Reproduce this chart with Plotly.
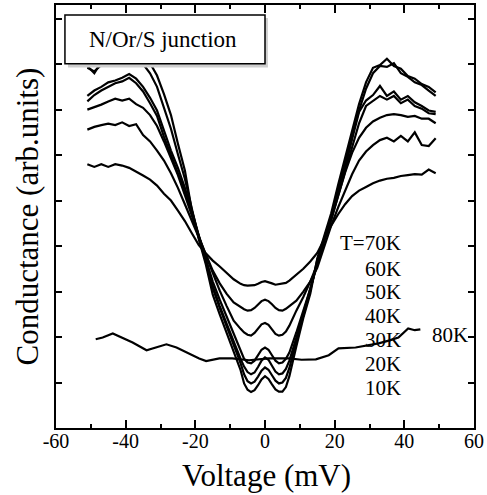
import plotly.graph_objects as go

# ---------------- data ----------------
voltage = [-51, -49, -47, -45, -43, -41, -39, -37, -35, -33,
           -31, -29, -27, -25, -23, -21, -19, -17, -15, -13, -11, -9, -7,
           -6, -5, -4, -3, -2, -1, 0, 1, 2, 3, 4, 5, 6, 7,
           9, 11, 13, 15, 17, 19, 21, 23, 25, 27, 29, 31, 33, 35, 37, 39, 41, 43, 45, 47, 49]

g_10K = [7.96, 7.80, 8.05, 8.20, 8.28, 8.32, 8.35, 8.30, 8.18, 8.02,
         7.75, 7.34, 6.88, 6.25, 5.66, 4.78, 4.15, 3.60, 2.93, 2.50, 2.10, 1.70, 1.27,
         0.98, 0.84, 0.79, 0.83, 0.94, 1.07, 1.14, 1.08, 0.96, 0.85, 0.80, 0.80, 0.90, 1.14,
         1.80, 2.42, 2.95, 3.72, 4.22, 4.72, 5.35, 5.95, 6.55, 7.12, 7.60, 7.92, 7.98, 8.12,
         7.96, 7.90, 7.74, 7.68, 7.56, 7.50, 7.38]

g_20K = [7.92, 7.84, 7.98, 8.10, 8.16, 8.22, 8.20, 8.12, 8.00, 7.80,
         7.50, 7.06, 6.58, 6.02, 5.48, 4.82, 4.18, 3.66, 3.08, 2.64, 2.24, 1.84, 1.42,
         1.18, 1.03, 0.98, 1.02, 1.13, 1.26, 1.33, 1.28, 1.16, 1.04, 0.98, 1.00, 1.10, 1.32,
         1.92, 2.50, 3.02, 3.70, 4.18, 4.65, 5.25, 5.85, 6.42, 6.98, 7.46, 7.80, 7.96, 7.94,
         8.02, 7.80, 7.72, 7.60, 7.54, 7.42, 7.30]

g_30K = [7.30, 7.42, 7.50, 7.60, 7.64, 7.70, 7.78, 7.68, 7.50, 7.26,
         6.98, 6.52, 6.10, 5.72, 5.28, 4.78, 4.22, 3.64, 3.12, 2.68, 2.28, 1.90, 1.52,
         1.35, 1.23, 1.18, 1.22, 1.34, 1.48, 1.55, 1.50, 1.37, 1.24, 1.18, 1.20, 1.30, 1.48,
         1.98, 2.52, 3.02, 3.62, 4.15, 4.62, 5.18, 5.72, 6.35, 6.95, 7.20, 7.32, 7.52, 7.30,
         7.40, 7.22, 7.30, 7.16, 7.08, 6.98, 6.95]

g_40K = [7.18, 7.32, 7.42, 7.50, 7.58, 7.62, 7.70, 7.58, 7.40, 7.14,
         6.86, 6.40, 6.00, 5.62, 5.20, 4.72, 4.22, 3.72, 3.22, 2.82, 2.44, 2.06, 1.68,
         1.52, 1.44, 1.42, 1.48, 1.60, 1.72, 1.77, 1.72, 1.60, 1.48, 1.42, 1.44, 1.52, 1.66,
         2.10, 2.58, 3.06, 3.60, 4.12, 4.58, 5.10, 5.62, 6.18, 6.70, 7.08, 7.20, 7.30, 7.22,
         7.30, 7.14, 7.22, 7.08, 7.02, 6.92, 6.90]

g_50K = [7.00, 7.05, 7.11, 7.18, 7.24, 7.20, 7.24, 7.12, 7.04, 6.88,
         6.64, 6.30, 5.95, 5.56, 5.12, 4.66, 4.22, 3.80, 3.40, 3.02, 2.68, 2.36, 2.18,
         2.10, 2.05, 2.03, 2.09, 2.19, 2.28, 2.31, 2.27, 2.17, 2.07, 2.03, 2.05, 2.12, 2.25,
         2.58, 2.88, 3.22, 3.60, 4.12, 4.58, 5.10, 5.62, 6.05, 6.38, 6.60, 6.74, 6.82, 6.88,
         6.90, 6.88, 6.84, 6.86, 6.80, 6.80, 6.70]

g_60K = [6.56, 6.62, 6.66, 6.69, 6.66, 6.72, 6.64, 6.68, 6.44, 6.30,
         6.10, 5.88, 5.60, 5.28, 4.92, 4.55, 4.18, 3.82, 3.46, 3.18, 2.95, 2.76, 2.65,
         2.61, 2.58, 2.59, 2.64, 2.72, 2.79, 2.82, 2.79, 2.72, 2.64, 2.59, 2.58, 2.62, 2.68,
         2.80, 3.00, 3.22, 3.52, 3.98, 4.45, 4.85, 5.22, 5.58, 5.88, 6.08, 6.22, 6.33, 6.38,
         6.30, 6.42, 6.30, 6.50, 6.22, 6.20, 6.37]

g_70K = [5.80, 5.74, 5.80, 5.74, 5.80, 5.77, 5.72, 5.64, 5.55, 5.46,
         5.33, 5.15, 5.00, 4.78, 4.55, 4.28, 4.02, 3.84, 3.68, 3.55, 3.42, 3.27, 3.17,
         3.14, 3.13, 3.13, 3.14, 3.17, 3.21, 3.23, 3.21, 3.18, 3.15, 3.16, 3.17, 3.19, 3.24,
         3.36, 3.50, 3.66, 3.85, 4.15, 4.45, 4.70, 4.92, 5.10, 5.22, 5.30, 5.38, 5.44, 5.48,
         5.50, 5.54, 5.56, 5.58, 5.57, 5.68, 5.60]

v_80K = [-48.6, -46.6, -43.7, -40.9, -38.0, -34.0, -31.1, -28.3, -25.4, -22.6,
         -18.9, -16.9, -13.1, -9.4, -4.6, 1.1, 6.9, 10.5, 14.6, 18.3,
         21.1, 26.0, 29.5, 32.6, 35.5, 38.3, 41.1, 43.0, 44.6]
g_80K = [1.95, 1.99, 2.08, 1.99, 1.88, 1.71, 1.77, 1.84, 1.77, 1.66,
         1.53, 1.47, 1.53, 1.53, 1.49, 1.53, 1.53, 1.50, 1.51, 1.60,
         1.75, 1.77, 1.82, 1.86, 1.92, 1.99, 2.19, 2.15, 2.17]

x_tick_vals = [-60, -40, -20, 0, 20, 40, 60]
x_tick_text = ["-60", "-40", "-20", "0", "20", "40", "60"]
y_tick_vals = [1, 2, 3, 4, 5, 6, 7, 8, 9]

series = [("10K", g_10K), ("20K", g_20K), ("30K", g_30K), ("40K", g_40K),
          ("50K", g_50K), ("60K", g_60K), ("70K", g_70K)]

# ---------------- figure ----------------
SERIF = "Liberation Serif, Times New Roman, serif"
LW = 2.2
fig = go.Figure()
for name, g in series:
    fig.add_trace(go.Scatter(x=voltage, y=g, mode="lines", name=name,
                             line=dict(color="black", width=LW), showlegend=False))
fig.add_trace(go.Scatter(x=v_80K, y=g_80K, mode="lines", name="80K",
                         line=dict(color="black", width=LW), showlegend=False))

fig.update_layout(
    width=487, height=495,
    margin=dict(l=56, r=11, t=3, b=67),
    paper_bgcolor="white", plot_bgcolor="white",
    font=dict(family=SERIF, color="black"),
    showlegend=False,
)
fig.update_xaxes(
    range=[-60, 60], tickvals=x_tick_vals, ticktext=x_tick_text,
    ticks="inside", ticklen=8, tickwidth=1.5, tickcolor="black",
    showline=True, linewidth=2.2, linecolor="black", mirror="ticks",
    showgrid=False, zeroline=False, tickfont=dict(size=20, family=SERIF),
    ticklabelstandoff=-6,
    minor=dict(dtick=10, ticks="inside", ticklen=4, tickwidth=1.5,
               tickcolor="black", showgrid=False),
)
fig.update_yaxes(
    range=[0, 9.3], tickvals=y_tick_vals, showticklabels=False,
    ticks="inside", ticklen=6, tickwidth=1.5, tickcolor="black",
    showline=True, linewidth=2.2, linecolor="black", mirror="ticks",
    showgrid=False, zeroline=False,
)

# axis titles
fig.add_annotation(text="Voltage (mV)", xref="paper", yref="paper",
                   x=0.5036, y=-0.113, xanchor="center", yanchor="middle",
                   showarrow=False, font=dict(size=31, family=SERIF))
fig.add_annotation(text="Conductance (arb.units)", xref="paper", yref="paper",
                   x=-0.067, y=0.5, xanchor="center", yanchor="middle",
                   textangle=-90, showarrow=False, font=dict(size=31, family=SERIF))

# boxed caption with light shadow
fig.add_shape(type="rect", xref="paper", yref="paper",
              x0=0.0286, x1=0.507, y0=0.852, y1=0.969, layer="above",
              line=dict(width=0), fillcolor="#cfcfcf")
fig.add_shape(type="rect", xref="paper", yref="paper",
              x0=0.0214, x1=0.500, y0=0.8612, y1=0.9765, layer="above",
              line=dict(width=1.5, color="black"), fillcolor="white")
fig.add_annotation(text="N/Or/S junction", xref="paper", yref="paper",
                   x=0.255, y=0.918, xanchor="center", yanchor="middle",
                   showarrow=False, font=dict(size=23, family=SERIF))

# temperature labels
for txt, yy in [("T=70K", 4.07), ("60K", 3.50), ("50K", 2.99), ("40K", 2.47),
                ("30K", 1.94), ("20K", 1.41), ("10K", 0.89)]:
    fig.add_annotation(text=txt, x=39.7, y=yy, xref="x", yref="y",
                       xanchor="right", yanchor="middle", showarrow=False,
                       font=dict(size=21, family=SERIF))
fig.add_annotation(text="80K", x=47.4, y=2.04, xref="x", yref="y",
                   xanchor="left", yanchor="middle", showarrow=False,
                   font=dict(size=21, family=SERIF))

fig.write_html("out.html")
